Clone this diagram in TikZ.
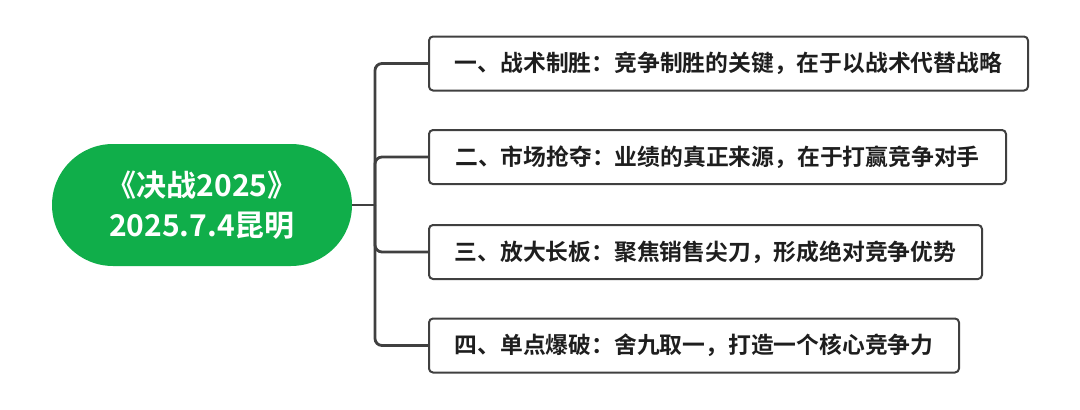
\documentclass[tikz,border=0pt]{standalone}
\usepackage{fontspec}
\usepackage{xcolor}
\usepackage{tikz}
\usetikzlibrary{positioning}
\newfontfamily\cjk{Noto Sans CJK SC}[BoldFont={Noto Sans CJK SC Bold}]
\definecolor{rootgreen}{RGB}{16,174,74}
\definecolor{linegray}{RGB}{64,64,64}
\definecolor{textdark}{RGB}{30,30,30}
\begin{document}
\begin{tikzpicture}[x=1pt,y=-1pt]
    \useasboundingbox (0,0) rectangle (1080,410);
    \tikzset{
        topic/.style={draw=linegray, line width=2pt, rounded corners=4pt, fill=white, text=textdark,
            minimum height=54pt, anchor=west, font=\cjk\bfseries\fontsize{22.8}{26}\selectfont},
        conn/.style={draw=linegray, line width=2.8pt, rounded corners=7pt}
    }
            \node (root) [fill=rootgreen, rounded corners=61pt, minimum width=300pt, minimum height=122pt,
                text=white, align=center, font=\cjk\bfseries\fontsize{30}{40}\selectfont] at (202,205) {《决战2025》\\2025.7.4昆明};
            \coordinate (trunk) at (375,205);

            \node (t1) [topic, minimum width=599pt] at (428,63.5) {一、战术制胜：竞争制胜的关键，在于以战术代替战略};
            \node (t2) [topic, minimum width=577pt] at (428,157) {二、市场抢夺：业绩的真正来源，在于打赢竞争对手};
            \node (t3) [topic, minimum width=553pt] at (428,252) {三、放大长板：聚焦销售尖刀，形成绝对竞争优势};
            \node (t4) [topic, minimum width=530pt] at (428,345.5) {四、单点爆破：舍九取一，打造一个核心竞争力};

            \draw[conn] (root.east) -- (trunk);
            \draw[conn] (trunk) |- (t1.west);
            \draw[conn] (trunk) |- (t2.west);
            \draw[conn] (trunk) |- (t3.west);
            \draw[conn] (trunk) |- (t4.west);
        \end{tikzpicture}
\end{document}
